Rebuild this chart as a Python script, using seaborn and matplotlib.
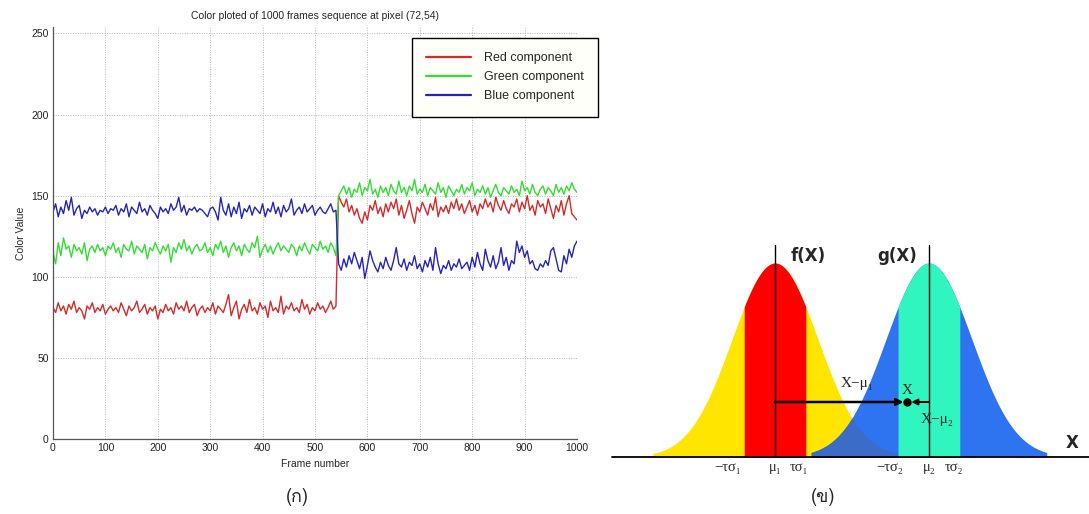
import numpy as np
import pandas as pd
import matplotlib
matplotlib.use("Agg")
import matplotlib.pyplot as plt
import seaborn as sns
from matplotlib import font_manager as fm
from matplotlib.ft2font import FT2Font

# ---------------- data: left panel (sampled every 5 frames) ----------------
frames = np.arange(0, 1001, 5)

red_values = [
    81, 78, 84, 79, 82, 77, 83, 80, 85, 78, 81, 79, 74, 82, 80, 84, 78, 81, 79, 83,
    77, 80, 82, 79, 81, 78, 84, 80, 76, 82, 79, 81, 85, 78, 80, 83, 77, 81, 79, 82,
    74, 80, 78, 83, 79, 81, 77, 84, 80, 82, 79, 85, 78, 81, 83, 76, 80, 82, 78, 81,
    79, 84, 77, 82, 80, 78, 83, 89, 76, 81, 85, 74, 80, 83, 78, 86, 79, 81, 77, 84,
    80, 82, 75, 85, 79, 81, 78, 88, 77, 82, 80, 84, 79, 81, 78, 86, 80, 83, 77, 81,
    79, 84, 80, 82, 78, 81, 85, 80, 82, 150,
    146, 143, 148, 140, 144, 138, 142, 136, 133, 140, 135, 144, 141, 147, 139, 143, 137, 145, 140, 146,
    142, 148, 138, 144, 136, 141, 147, 139, 133, 143, 140, 146, 142, 138, 145, 141, 149, 137, 143, 140,
    144, 139, 146, 142, 148, 141, 145, 139, 143, 147, 140, 144, 138, 145, 142, 148, 143, 146, 140, 149,
    144, 141, 147, 142, 139, 145, 143, 148, 140, 146, 142, 150, 141, 144, 138, 147, 143, 145, 139, 148,
    142, 136, 144, 140, 147, 138, 145, 150, 139, 137, 135,
]
green_values = [
    115, 108, 121, 113, 124, 117, 119, 112, 120, 116, 118, 114, 121, 110, 117, 119, 115, 120, 116, 118,
    113, 119, 117, 121, 115, 118, 112, 120, 117, 116, 122, 114, 119, 117, 115, 120, 111, 118, 116, 121,
    117, 114, 119, 116, 120, 109, 118, 115, 121, 117, 123, 116, 119, 114, 118, 120, 116, 117, 121, 115,
    118, 113, 120, 117, 122, 115, 119, 112, 118, 121, 116, 119, 113, 120, 117, 115, 121, 118, 125, 112,
    117, 120, 115, 119, 114, 118, 121, 116, 119, 117, 115, 120, 118, 113, 119, 116, 121, 117, 114, 120,
    118, 116, 122, 117, 119, 115, 121, 118, 113, 150,
    153, 156, 151, 155, 149, 154, 152, 158, 150, 155, 153, 160, 151, 154, 149, 156, 152, 155, 150, 157,
    153, 151, 159, 152, 155, 150, 156, 153, 160, 151, 154, 152, 157, 150, 155, 153, 151, 158, 152, 155,
    149, 156, 153, 150, 154, 152, 157, 151, 155, 153, 158, 150, 154, 152, 156, 151, 155, 149, 153, 157,
    152, 150, 155, 153, 151, 156, 152, 154, 150, 159, 153, 155, 151, 157, 152, 150, 154, 156, 151, 155,
    153, 150, 157, 152, 155, 151, 156, 153, 158, 154, 152,
]
blue_values = [
    140, 145, 137, 143, 139, 147, 141, 149, 138, 142, 144, 136, 141, 139, 143, 140, 142, 138, 141, 140,
    143, 139, 142, 141, 144, 138, 142, 140, 145, 137, 143, 141, 139, 146, 140, 142, 138, 144, 141, 139,
    136, 143, 140, 142, 139, 145, 141, 143, 149, 140, 144, 138, 142, 141, 143, 140, 142, 141, 139, 137,
    142, 143, 140, 135, 149, 141, 138, 145, 137, 143, 139, 146, 136, 142, 140, 144, 138, 143, 141, 139,
    145, 137, 142, 140, 146, 139, 143, 137, 144, 140, 142, 148, 138, 141, 143, 139, 145, 140, 142, 144,
    138, 141, 143, 140, 139, 142, 145, 140, 141, 108,
    104, 111, 106, 113, 108, 115, 110, 105, 112, 99, 107, 116, 110, 106, 103, 109, 105, 112, 107, 104,
    110, 118, 108, 106, 111, 104, 109, 107, 113, 105, 108, 103, 110, 106, 112, 104, 118, 108, 102, 107,
    105, 110, 104, 108, 106, 111, 105, 107, 109, 104, 112, 106, 115, 108, 104, 117, 110, 106, 113, 105,
    109, 118, 107, 112, 104, 110, 108, 122, 115, 119, 112, 116, 108, 110, 105, 104, 108, 106, 110, 107,
    116, 118, 111, 104, 103, 113, 108, 117, 112, 119, 122,
]
series_labels = ["Red component", "Green component", "Blue component"]
x_ticks = [0, 100, 200, 300, 400, 500, 600, 700, 800, 900, 1000]
y_ticks = [0, 50, 100, 150, 200, 250]
left_title = "Color ploted of 1000 frames sequence at pixel (72,54)"

# ---------------- data: right panel (two Gaussian models) ----------------
gauss_mu = [0.0, 3.58]
gauss_sigma = [1.0, 1.0]
tau = 0.72
gauss_names = ["f(X)", "g(X)"]
tick_texts = ["\u2212\u03c4\u03c3\u2081", "\u03bc\u2081", "\u03c4\u03c3\u2081",
              "\u2212\u03c4\u03c3\u2082", "\u03bc\u2082", "\u03c4\u03c3\u2082"]
sample_x = 3.07
captions = ["(\u0e01)", "(\u0e02)"]


def find_font(chars, prefer=()):
    entries = list(fm.fontManager.ttflist)
    entries.sort(key=lambda f: (0 if any(p.lower() in f.name.lower() for p in prefer) else 1))
    for f in entries:
        try:
            cmap = FT2Font(f.fname).get_charmap()
        except Exception:
            continue
        if all(ord(c) in cmap for c in chars):
            return f.name
    return None


thai_font = find_font("\u0e01\u0e02", prefer=("Serif", "Thai", "Loma", "Garuda", "Kinnari"))

sns.set_style("white")
plt.rcParams["font.family"] = ["Liberation Sans", "DejaVu Sans"]

W, H = 1089, 514
fig = plt.figure(figsize=(W / 100, H / 100), dpi=100)
fig.patch.set_facecolor("white")

# ================= left panel =================
ax = fig.add_axes([53 / W, (H - 439) / H, (577 - 53) / W, (439 - 27) / H])
df = pd.DataFrame({"frame": frames, "Red component": red_values,
                   "Green component": green_values, "Blue component": blue_values})
line_colors = ["#d42a2a", "#33dd33", "#2424bd"]
for lab, col in zip(series_labels, line_colors):
    sns.lineplot(data=df, x="frame", y=lab, ax=ax, color=col, lw=1.0, label=lab)

ax.set_xlim(0, 1000)
ax.set_ylim(0, 254)
ax.set_xticks(x_ticks)
ax.set_yticks(y_ticks)
ax.tick_params(direction="in", length=3, labelsize=7.5, colors="#222222", pad=3)
ax.grid(True, linestyle=(0, (1, 1.5)), color="#b8b8b8", lw=0.7)
for s in ["top", "right"]:
    ax.spines[s].set_visible(False)
for s in ["left", "bottom"]:
    ax.spines[s].set_color("#555555")
    ax.spines[s].set_linewidth(0.9)
ax.set_xlabel("Frame number", fontsize=7.5, labelpad=4)
ax.set_ylabel("Color Value", fontsize=7.5, labelpad=4)
ax.set_title(left_title, fontsize=7.5, pad=6)
leg = ax.legend(loc="upper right", bbox_to_anchor=(598 / W, 1 - 38 / H),
                bbox_transform=fig.transFigure, borderaxespad=0, fontsize=9,
                handlelength=3.6, handletextpad=1.0, labelspacing=0.55,
                borderpad=1.15, fancybox=False, framealpha=1, edgecolor="black")
leg.get_frame().set_facecolor("#fffffa")
leg.get_frame().set_linewidth(1.0)
for l in leg.get_lines():
    l.set_linewidth(1.6)

# ================= right panel =================
px_sigma = 43.0
x_left = (612 - 775) / px_sigma
x_right = (1089 - 775) / px_sigma
peak = 1 / np.sqrt(2 * np.pi)
y_top = (457 - 240) / 194 * peak
ax2 = fig.add_axes([612 / W, (H - 457) / H, (1089 - 612) / W, (457 - 240) / H])
ax2.set_xlim(x_left, x_right)
ax2.set_ylim(0, y_top)
ax2.axis("off")

yellow, red, blue, aqua, blue_dark = "#ffe500", "#ff0000", "#2e74f0", "#30f5be", "#3a6cc8"


def pdf(x, m, s):
    return np.exp(-0.5 * ((x - m) / s) ** 2) / (s * np.sqrt(2 * np.pi))


m1, m2 = gauss_mu
s1, s2 = gauss_sigma
xs1 = np.linspace(m1 - 2.84 * s1, m1 + 2.84 * s1, 600)
xs2 = np.linspace(m2 - 2.74 * s2, m2 + 2.74 * s2, 600)
f1 = pdf(xs1, m1, s1)
f2 = pdf(xs2, m2, s2)

ax2.fill_between(xs1, 0, f1, color=yellow, lw=0)
band1 = np.abs(xs1 - m1) <= tau * s1
ax2.fill_between(xs1, 0, f1, where=band1, color=red, lw=0)
ax2.fill_between(xs2, 0, f2, color=blue, lw=0)
f1_on2 = np.where(xs2 <= xs1[-1], pdf(xs2, m1, s1), 0)
ax2.fill_between(xs2, 0, np.minimum(f1_on2, f2), where=(xs2 < m2 - tau * s2),
                 color=blue_dark, lw=0)
band2 = np.abs(xs2 - m2) <= tau * s2
ax2.fill_between(xs2, 0, f2, where=band2, color=aqua, lw=0)

line_top = (457 - 245) / 194 * peak
for m in gauss_mu:
    ax2.plot([m, m], [0, line_top], color="black", lw=1.0)
ax2.plot([x_left, x_right], [0, 0], color="black", lw=1.3, clip_on=False)

ax2.text(m1 + 0.77, (457 - 256) / 194 * peak, gauss_names[0], fontsize=12,
         fontweight="bold", family="DejaVu Sans", ha="center", va="center")
ax2.text(m2 - 0.74, (457 - 256) / 194 * peak, gauss_names[1], fontsize=12,
         fontweight="bold", family="DejaVu Sans", ha="center", va="center")
ax2.text((1072 - 775) / px_sigma, (457 - 443) / 194 * peak, "X", fontsize=12,
         fontweight="bold", family="DejaVu Sans", ha="center", va="center")

serif = ["Liberation Serif", "DejaVu Serif"]
tick_pos = [m1 - tau * s1 - 0.37, m1, m1 + tau * s1 - 0.17,
            m2 - tau * s2 - 0.2, m2, m2 + tau * s2 - 0.14]
ty = -(467 - 457) / 194 * peak
for t, p in zip(tick_texts, tick_pos):
    ax2.text(p, ty, t, fontsize=10.5, family=serif, ha="center", va="center", clip_on=False)

ay = (457 - 402) / 194 * peak
ax2.annotate("", xy=(sample_x - 0.08, ay), xytext=(m1, ay),
             arrowprops=dict(arrowstyle="-|>", color="black", lw=1.8, mutation_scale=10,
                             shrinkA=0, shrinkB=0))
ax2.annotate("", xy=(sample_x + 0.1, ay), xytext=(m2, ay),
             arrowprops=dict(arrowstyle="-|>", color="black", lw=1.4, mutation_scale=9,
                             shrinkA=0, shrinkB=0))
ax2.plot([sample_x], [ay], "o", color="black", ms=5)
ax2.text(sample_x - 1.16, (457 - 383) / 194 * peak, "X\u2212\u03bc\u2081", fontsize=11,
         family=serif, ha="center", va="center")
ax2.text(sample_x, (457 - 390) / 194 * peak, "X", fontsize=11, family=serif,
         ha="center", va="center")
ax2.text(m2 + 0.19, (457 - 420) / 194 * peak, "X\u2212\u03bc\u2082", fontsize=11,
         family=serif, ha="center", va="center")

cap_family = [thai_font, "DejaVu Serif"] if thai_font else ["DejaVu Serif"]
fig.text(297 / W, 1 - 497 / H, captions[0], fontsize=13, family=cap_family,
         ha="center", va="center")
fig.text(823 / W, 1 - 497 / H, captions[1], fontsize=13, family=cap_family,
         ha="center", va="center")

fig.savefig("out.png", dpi=100, facecolor="white")
